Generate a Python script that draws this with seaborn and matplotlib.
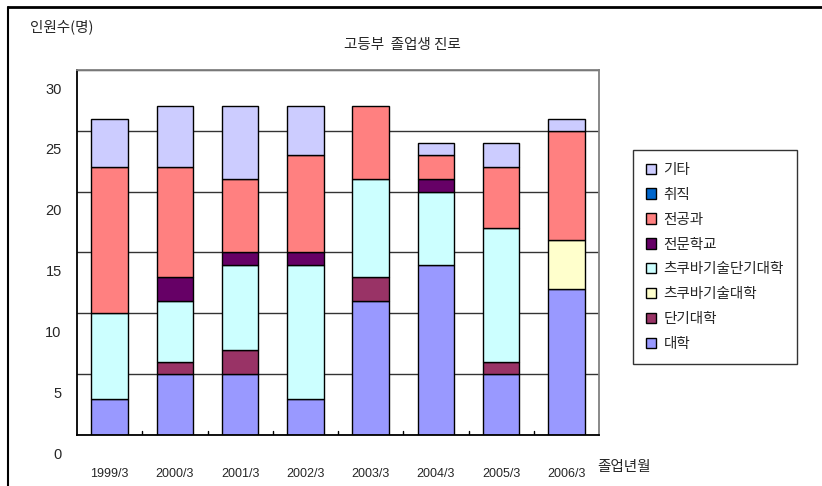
import numpy as np
import pandas as pd
import seaborn as sns
import matplotlib.pyplot as plt
from matplotlib.lines import Line2D
from matplotlib.patches import Patch
from matplotlib.transforms import ScaledTranslation

years = ['1999/3', '2000/3', '2001/3', '2002/3', '2003/3', '2004/3', '2005/3', '2006/3']

# stacked from bottom to top
univ = [3, 5, 5, 3, 11, 14, 5, 12]           # 대학
junior = [0, 1, 2, 0, 2, 0, 1, 0]            # 단기대학
tsukuba_univ = [0, 0, 0, 0, 0, 0, 0, 4]      # 츠쿠바기술대학
tsukuba_junior = [7, 5, 7, 11, 8, 6, 11, 0]  # 츠쿠바기술단기대학
vocational = [0, 2, 1, 1, 0, 1, 0, 0]        # 전문학교
major_course = [12, 9, 6, 8, 6, 2, 5, 9]     # 전공과
employed = [0, 0, 0, 0, 0, 0, 0, 0]          # 취직
other = [4, 5, 6, 4, 0, 1, 2, 1]             # 기타

series_names = ['대학', '단기대학', '츠쿠바기술대학', '츠쿠바기술단기대학',
                '전문학교', '전공과', '취직', '기타']
series_vals = [univ, junior, tsukuba_univ, tsukuba_junior,
               vocational, major_course, employed, other]
series_colors = ['#9999FF', '#993366', '#FFFFCC', '#CCFFFF',
                 '#660066', '#FF8080', '#0066CC', '#CCCCFF']

sns.set_style('white')
plt.rcParams['font.family'] = ['Noto Sans CJK KR', 'DejaVu Sans']

fig = plt.figure(figsize=(8.22, 4.86), dpi=100)
ax = fig.add_axes([77/822, 1-435/486, (599-77)/822, (435-70)/486])

bottom = np.zeros(len(years))
for name, vals, col in zip(series_names, series_vals, series_colors):
    df = pd.DataFrame({'year': years, 'n': vals})
    sns.barplot(data=df, x='year', y='n', bottom=bottom, color=col, width=0.56,
                edgecolor='black', linewidth=1, ax=ax, saturation=1)
    bottom = bottom + np.array(vals)

# empty segments should not leave an outline
for p in ax.patches:
    if p.get_height() == 0:
        p.set_linewidth(0)

ax.set_ylim(0, 30)
ax.set_xlim(-0.5, len(years) - 0.5)
ax.set_xlabel('')
ax.set_ylabel('')
ax.set_yticks([0, 5, 10, 15, 20, 25, 30])
ax.set_yticklabels(['0', '5', '10', '15', '20', '25', '30'],
                   family='Liberation Sans', fontsize=10.5)
ax.yaxis.grid(True, color='#333333', linewidth=1)
ax.set_axisbelow(True)
ax.tick_params(axis='y', length=0, pad=11)
# y labels sit lower than their gridlines in the original
for lab in ax.get_yticklabels():
    lab.set_transform(lab.get_transform() + ScaledTranslation(0, -0.18, fig.dpi_scale_trans))

ax.set_xticks(np.arange(len(years)))
ax.set_xticklabels(years, family='Liberation Sans', fontsize=9)
ax.tick_params(axis='x', length=0, pad=24)
for xb in np.arange(0.5, len(years) - 0.5, 1):
    ax.plot([xb, xb], [0, 0.35], color='black', linewidth=1, zorder=5)

for s in ['left', 'bottom']:
    ax.spines[s].set_color('black')
    ax.spines[s].set_linewidth(1.3)
for s in ['top', 'right']:
    ax.spines[s].set_color('#808080')
    ax.spines[s].set_linewidth(1.3)

handles = [Patch(facecolor=c, edgecolor='black', linewidth=1) for c in series_colors]
leg = fig.legend(handles[::-1], series_names[::-1], loc='center',
                 bbox_to_anchor=(715/822, 1-257/486), frameon=True,
                 fancybox=False, edgecolor='black', fontsize=10.5,
                 handlelength=0.7, handleheight=0.7, labelspacing=0.75,
                 borderpad=0.9, handletextpad=0.5, borderaxespad=0)
leg.get_frame().set_linewidth(1)

fig.text(30/822, 1-27/486, '인원수(명)', fontsize=10.5, va='center', ha='left')
fig.text(402/822, 1-45/486, '고등부  졸업생 진로', fontsize=10.5, va='center', ha='center')
fig.text(597/822, 1-467/486, '졸업년월', fontsize=10.5, va='center', ha='left')

fig.add_artist(Line2D([8/822, 1], [1-7/486, 1-7/486], color='black', linewidth=2))
fig.add_artist(Line2D([8/822, 8/822], [0, 1-7/486], color='black', linewidth=1.5))

fig.savefig('out.png', dpi=100)
